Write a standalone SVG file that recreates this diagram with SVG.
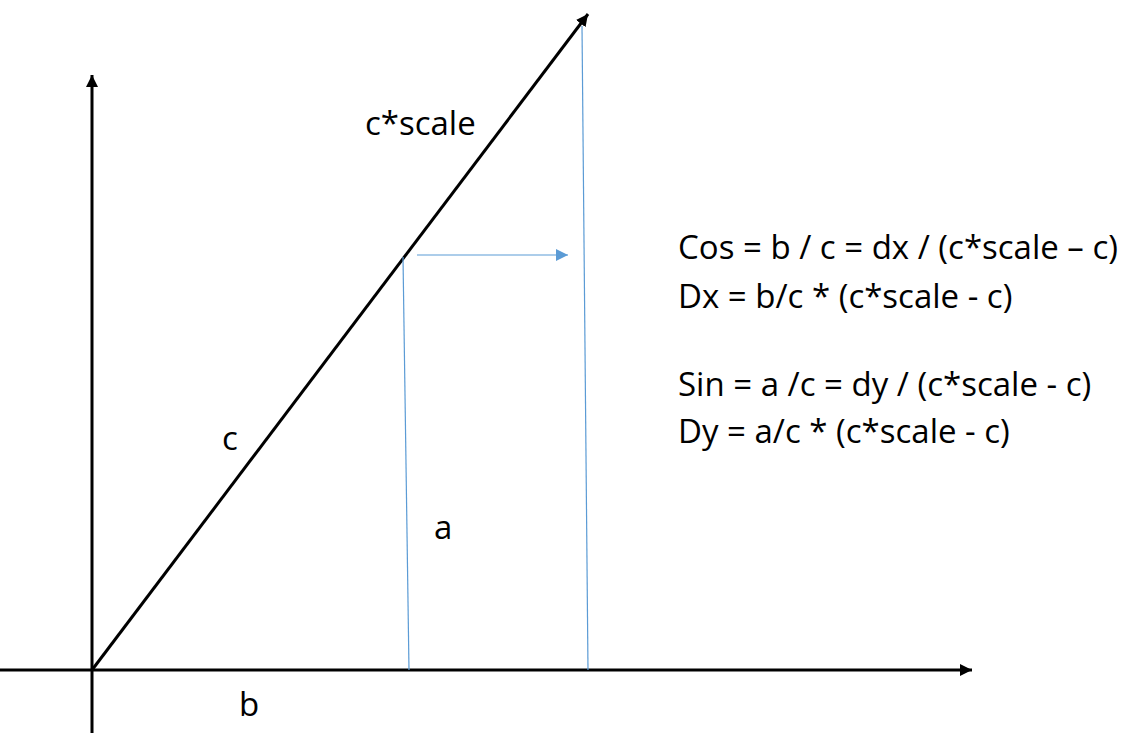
<svg xmlns="http://www.w3.org/2000/svg" width="1146" height="749" viewBox="0 0 1146 749">
<style>
.ax{stroke:#000;stroke-width:3;fill:none}
.bl{stroke:#5b9bd5;stroke-width:1.2;fill:none}
.t{font-family:"Open Sans","Liberation Sans",sans-serif;font-size:33px;fill:#000}
.lb{font-family:"Open Sans","Liberation Sans",sans-serif;font-size:33px;fill:#000}
</style>
<defs>
<marker id="ka" viewBox="0 0 10 10" refX="10" refY="5" markerWidth="4" markerHeight="4" orient="auto" markerUnits="strokeWidth"><path d="M0,0 L10,5 L0,10 z" fill="#000"/></marker>
<marker id="ba" viewBox="0 0 10 10" refX="10" refY="5" markerWidth="10" markerHeight="10" orient="auto" markerUnits="strokeWidth"><path d="M0,0 L10,5 L0,10 z" fill="#5b9bd5"/></marker>
</defs>
<g id="connectors">
<line id="x-axis" class="ax" x1="0" y1="670" x2="972" y2="670" marker-end="url(#ka)"/>
<line id="y-axis" class="ax" x1="92" y1="733" x2="92" y2="75" marker-end="url(#ka)"/>
<line id="hyp" class="ax" x1="92" y1="670" x2="588" y2="14" marker-end="url(#ka)"/>
<line class="bl" x1="403" y1="257" x2="409" y2="670"/>
<line class="bl" x1="582" y1="26" x2="588" y2="670"/>
<line class="bl" x1="417" y1="255" x2="568" y2="255" marker-end="url(#ba)"/>
</g>
<g id="labels">
<text class="lb" x="365" y="135">c*scale</text>
<text class="lb" x="222" y="450">c</text>
<text class="lb" x="434" y="539">a</text>
<text class="lb" x="239" y="716">b</text>
</g>
<g id="formulas">
<text class="t" x="678" y="259">Cos = b / c = dx / (c*scale – c)</text>
<text class="t" x="678" y="308">Dx = b/c * (c*scale - c)</text>
<text class="t" x="678" y="396">Sin = a /c = dy / (c*scale - c)</text>
<text class="t" x="678" y="443">Dy = a/c * (c*scale - c)</text>
</g>
</svg>
